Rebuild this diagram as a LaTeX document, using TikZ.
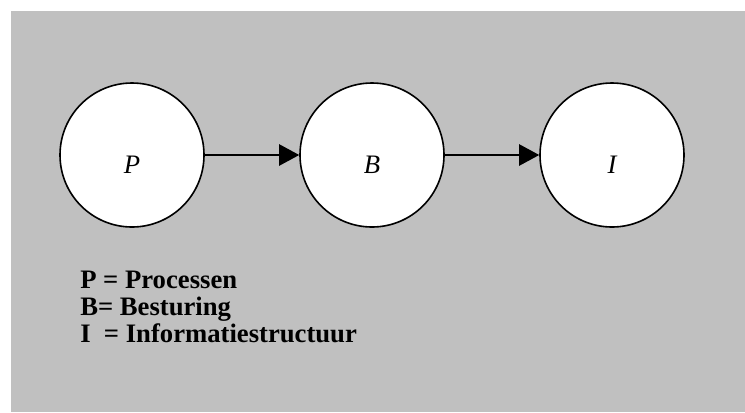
\documentclass[tikz,border=0pt]{standalone}
\usepackage{fontspec}
\setmainfont{Liberation Serif}
\usetikzlibrary{arrows.meta}
\definecolor{bggray}{HTML}{C0C0C0}
\tikzset{
  stage/.style={circle, draw=black, fill=white, line width=1.2pt, minimum size=108pt, inner sep=0pt,
    font=\fontsize{20}{24}\selectfont\itshape, text height=28pt, text depth=0pt},
  flow/.style={line width=0.9pt, -{Triangle[length=15pt,width=16pt]}},
  legend/.style={anchor=base west, inner sep=0pt, font=\fontsize{20}{24}\selectfont\bfseries}
}
\begin{document}
\begin{tikzpicture}[x=0.75pt,y=-0.75pt]
\useasboundingbox (0,0) rectangle (745,412);
\fill[bggray] (11,11) rectangle (745,412);
\node[stage] (p) at (132,155) {P};
\node[stage] (b) at (372,155) {B};
\node[stage] (i) at (612,155) {I};
\draw[flow] (p) -- (b);
\draw[flow] (b) -- (i);
\node[legend] (l1) at (80,288) {P = Processen};
\node[legend] (l2) at (80,315) {B= Besturing};
\node[legend] (l3) at (80,342) {I\ \ = Informatiestructuur};
\end{tikzpicture}
\end{document}
